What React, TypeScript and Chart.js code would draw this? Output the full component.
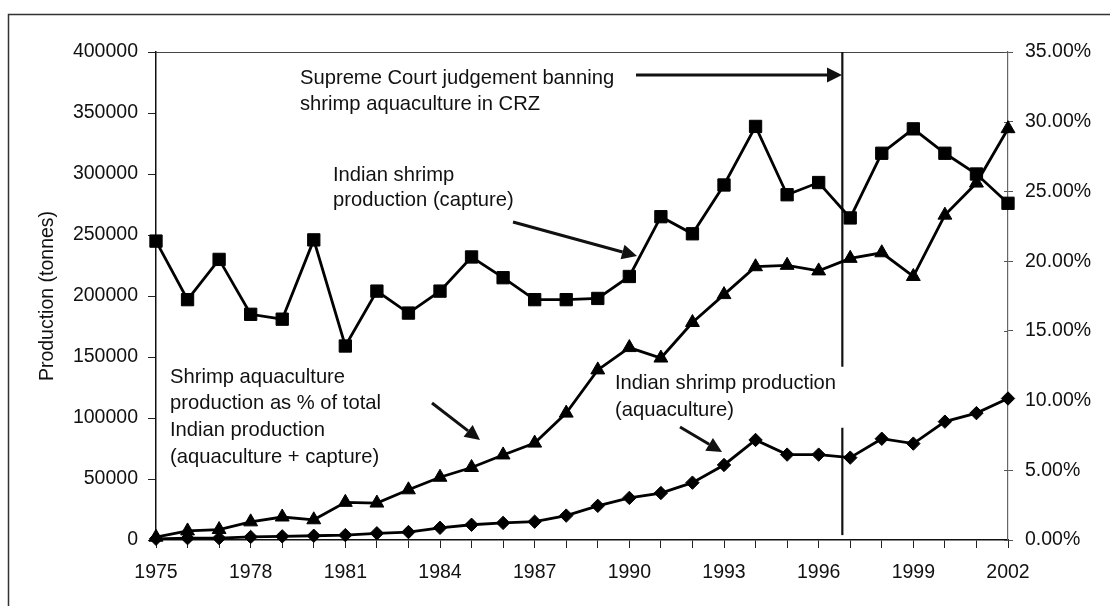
import React, { useEffect, useRef } from "react";
import { Chart, registerables } from "chart.js";

Chart.register(...registerables);

const years = [
  1975, 1976, 1977, 1978, 1979, 1980, 1981, 1982, 1983, 1984, 1985, 1986, 1987, 1988,
  1989, 1990, 1991, 1992, 1993, 1994, 1995, 1996, 1997, 1998, 1999, 2000, 2001, 2002,
];

// Indian shrimp production (capture), tonnes
const captureTonnes = [
  245000, 197000, 230000, 185000, 181000, 246000, 159000, 204000, 186000, 204000, 232000,
  215000, 197000, 197000, 198000, 216000, 265000, 251000, 291000, 339000, 283000, 293000,
  264000, 317000, 337000, 317000, 300000, 276000,
];

// Indian shrimp production (aquaculture), tonnes
const aquacultureTonnes = [
  1000, 1500, 1500, 2500, 3000, 3500, 4000, 5500, 6500, 10000, 12500, 14000, 15000, 20000,
  28000, 34500, 38500, 47000, 61500, 82000, 70000, 70000, 67500, 83000, 79000, 97000,
  104000, 116000,
];

// Shrimp aquaculture production as % of total Indian production
const aquaculturePercent = [
  0.2, 0.65, 0.75, 1.3, 1.65, 1.45, 2.7, 2.65, 3.6, 4.5, 5.2, 6.1, 6.95, 9.1, 12.2, 13.8,
  13.05, 15.6, 17.6, 19.6, 19.7, 19.3, 20.2, 20.6, 18.9, 23.3, 25.6, 29.5,
];

const xTickLabelYears = [1975, 1978, 1981, 1984, 1987, 1990, 1993, 1996, 1999, 2002];

const BAN_YEAR = 1996.75;
const banLineSegments = [
  [400000, 142000],
  [92000, 4000],
];

const FONT = "'Liberation Sans', Arial, Helvetica, sans-serif";
const FS = 19.5;
const ANN_FS = 20.2;

const annotationTexts = [
  { x: 300, ys: [78, 104], lines: ["Supreme Court judgement banning", "shrimp aquaculture in CRZ"] },
  { x: 333, ys: [175, 200], lines: ["Indian shrimp", "production (capture)"] },
  {
    x: 170,
    ys: [377, 403, 430, 457],
    lines: ["Shrimp aquaculture", "production as % of total", "Indian production", "(aquaculture + capture)"],
  },
  { x: 615, ys: [383, 410], lines: ["Indian shrimp production", "(aquaculture)"] },
];

const arrows = [
  { from: [636, 75], to: [842, 75] },
  { from: [513, 222], to: [637, 256] },
  { from: [432, 403], to: [480, 440] },
  { from: [680, 427], to: [722, 452] },
];

function drawArrow(ctx: CanvasRenderingContext2D, from: number[], to: number[]) {
  const [x1, y1] = from;
  const [x2, y2] = to;
  const ang = Math.atan2(y2 - y1, x2 - x1);
  const headLen = 15;
  const headHalf = 7.5;
  const bx = x2 - Math.cos(ang) * headLen;
  const by = y2 - Math.sin(ang) * headLen;
  ctx.save();
  ctx.strokeStyle = "#111";
  ctx.fillStyle = "#111";
  ctx.lineWidth = 3;
  ctx.beginPath();
  ctx.moveTo(x1, y1);
  ctx.lineTo(bx, by);
  ctx.stroke();
  ctx.beginPath();
  ctx.moveTo(x2, y2);
  ctx.lineTo(bx + Math.sin(ang) * headHalf, by - Math.cos(ang) * headHalf);
  ctx.lineTo(bx - Math.sin(ang) * headHalf, by + Math.cos(ang) * headHalf);
  ctx.closePath();
  ctx.fill();
  ctx.restore();
}

const framePlugin = {
  id: "frame",
  beforeDraw(chart: any) {
    const { ctx, width, height } = chart;
    ctx.save();
    ctx.fillStyle = "#fff";
    ctx.fillRect(0, 0, width, height);
    ctx.strokeStyle = "#333";
    ctx.lineWidth = 1.5;
    ctx.beginPath();
    ctx.moveTo(8.5, height);
    ctx.lineTo(8.5, 14.5);
    ctx.lineTo(width, 14.5);
    ctx.stroke();
    ctx.restore();
  },
  beforeDatasetsDraw(chart: any) {
    const { ctx, chartArea, scales } = chart;
    ctx.save();
    // top border of plot area
    ctx.strokeStyle = "#444";
    ctx.lineWidth = 1.2;
    ctx.beginPath();
    ctx.moveTo(chartArea.left, chartArea.top + 0.5);
    ctx.lineTo(chartArea.right, chartArea.top + 0.5);
    ctx.stroke();
    // inward ticks on right axis
    const y1 = scales.y1;
    ctx.strokeStyle = "#555";
    ctx.lineWidth = 1;
    y1.ticks.forEach((t: any) => {
      const py = Math.round(y1.getPixelForValue(t.value)) + 0.5;
      ctx.beginPath();
      ctx.moveTo(chartArea.right - 4, py);
      ctx.lineTo(chartArea.right, py);
      ctx.stroke();
    });
    // ban line
    const bx = scales.x.getPixelForValue(BAN_YEAR);
    ctx.strokeStyle = "#111";
    ctx.lineWidth = 2.2;
    banLineSegments.forEach(([a, b]) => {
      ctx.beginPath();
      ctx.moveTo(bx, scales.y.getPixelForValue(a));
      ctx.lineTo(bx, scales.y.getPixelForValue(b));
      ctx.stroke();
    });
    ctx.restore();
  },
  afterDatasetsDraw(chart: any) {
    const { ctx } = chart;
    ctx.save();
    ctx.fillStyle = "#111";
    ctx.font = `${ANN_FS}px ${FONT}`;
    ctx.textBaseline = "middle";
    ctx.textAlign = "left";
    annotationTexts.forEach((a) => {
      a.lines.forEach((line, i) => ctx.fillText(line, a.x, a.ys[i]));
    });
    ctx.restore();
    arrows.forEach((a) => drawArrow(ctx, a.from, a.to));
  },
};

export default function App() {
  const canvasRef = useRef<HTMLCanvasElement | null>(null);

  useEffect(() => {
    const canvas = canvasRef.current;
    if (!canvas) return;
    const toXY = (vals: number[]) => years.map((yr, i) => ({ x: yr, y: vals[i] }));
    const common = {
      borderColor: "#000",
      backgroundColor: "#000",
      borderWidth: 2.8,
      pointBackgroundColor: "#000",
      pointBorderColor: "#000",
      pointBorderWidth: 1,
      tension: 0,
      clip: false,
    };
    const chart = new Chart(canvas, {
      type: "line",
      data: {
        datasets: [
          {
            ...common,
            label: "Indian shrimp production (capture)",
            data: toXY(captureTonnes),
            yAxisID: "y",
            pointStyle: "rect",
            pointRadius: 8.7,
          },
          {
            ...common,
            label: "Indian shrimp production (aquaculture)",
            data: toXY(aquacultureTonnes),
            yAxisID: "y",
            pointStyle: "rectRot",
            pointRadius: 6.7,
          },
          {
            ...common,
            label: "Shrimp aquaculture production as % of total",
            data: toXY(aquaculturePercent),
            yAxisID: "y1",
            pointStyle: "triangle",
            pointRadius: 8,
          },
        ],
      },
      options: {
        animation: false,
        responsive: false,
        devicePixelRatio: 1,
        layout: { padding: { top: 52, left: 0, right: 0, bottom: 0 } },
        plugins: { legend: { display: false }, tooltip: { enabled: false } },
        scales: {
          x: {
            type: "linear",
            min: 1975,
            max: 2002,
            afterFit: (s: any) => {
              s.height = 66;
            },
            afterBuildTicks: (s: any) => {
              s.ticks = years.map((v) => ({ value: v }));
            },
            ticks: {
              autoSkip: false,
              maxRotation: 0,
              padding: 13,
              color: "#111",
              font: { family: FONT, size: FS },
              callback: (v: any) => (xTickLabelYears.includes(Number(v)) ? String(v) : ""),
            },
            grid: { drawOnChartArea: false, tickLength: 8, color: "#222", lineWidth: 1 },
            border: { color: "#111", width: 1.5 },
          },
          y: {
            position: "left",
            min: 0,
            max: 400000,
            afterFit: (s: any) => {
              s.width = 156;
            },
            ticks: {
              stepSize: 50000,
              padding: 10,
              color: "#111",
              font: { family: FONT, size: FS },
              callback: (v: any) => String(v),
            },
            grid: { drawOnChartArea: false, tickLength: 8, color: "#222" },
            border: { color: "#111", width: 1.5 },
            title: {
              display: true,
              text: "Production (tonnes)",
              color: "#111",
              font: { family: FONT, size: FS },
              padding: { top: 36, bottom: 0 },
            },
          },
          y1: {
            position: "right",
            min: 0,
            max: 35,
            afterFit: (s: any) => {
              s.width = 102;
            },
            ticks: {
              stepSize: 5,
              padding: 12,
              color: "#111",
              font: { family: FONT, size: FS },
              callback: (v: any) => Number(v).toFixed(2) + "%",
            },
            grid: { drawOnChartArea: false, tickLength: 5, color: "#555" },
            border: { color: "#666", width: 1.2 },
          },
        },
      },
      plugins: [framePlugin],
    } as any);
    return () => chart.destroy();
  }, []);

  return (
    <div style={{ position: "fixed", left: 0, top: 0, width: 1110, height: 606, background: "#fff" }}>
      <canvas ref={canvasRef} width={1110} height={606} style={{ width: 1110, height: 606, display: "block" }} />
    </div>
  );
}
